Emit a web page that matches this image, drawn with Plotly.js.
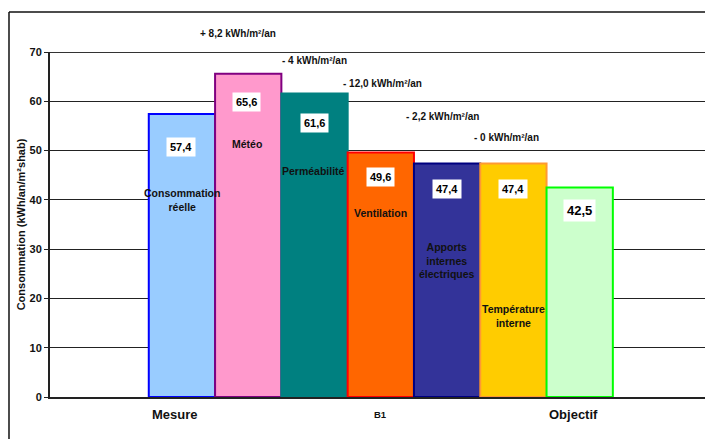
<!DOCTYPE html>
<html><head><meta charset="utf-8">
<script src="https://cdn.plot.ly/plotly-3.0.1.min.js"></script>
<style>html,body{margin:0;padding:0;background:#fff}#chart{width:705px;height:439px}</style>
</head><body><div id="chart"></div>
<script>
// ---- data ----
var barNames = ['Consommation<br>réelle', 'Météo', 'Perméabilité', 'Ventilation', 'Apports<br>internes<br>électriques', 'Température<br>interne', ''];
var barValues = [57.4, 65.6, 61.6, 49.6, 47.4, 47.4, 42.5];
var valueLabels = ['57,4', '65,6', '61,6', '49,6', '47,4', '47,4', '42,5'];
var deltaLabels = ['+ 8,2 kWh/m²/an', '- 4 kWh/m²/an', '- 12,0 kWh/m²/an', '- 2,2 kWh/m²/an', '- 0 kWh/m²/an'];
var groupLabels = ['Mesure', 'B1', 'Objectif'];
var yTickVals = [0, 10, 20, 30, 40, 50, 60, 70];

// ---- styles ----
var fillColors = ['#99CCFF', '#FF99CC', '#008080', '#FF6600', '#333399', '#FFCC00', '#CCFFCC'];
var lineColors = ['#0000FF', '#800080', '#008080', '#FF0000', '#000080', '#FF9933', '#00FF00'];
var F = 'Liberation Sans, Arial, sans-serif';
var yMax = 70;

var xs = barValues.map(function (v, i) { return i; });

// label placement (layout only)
var valPos = [[-0.02, 50.7], [0.98, 59.9], [2, 55.5], [3, 44.6], [4, 42.3], [5, 42.3], [6, 37.9]];
var namePos = [[0, 40.0], [0.98, 51.3], [1.98, 45.8], [3, 37.4], [4, 27.6], [5, 16.5]];
var deltaPos = [[0.85, 73.8], [2.0, 68.3], [3.02, 63.7], [3.93, 57.0], [4.9, 52.7]];
var groupPos = [[-0.1, 13], [3, 9.5], [5.9, 13]];

var ann = [];
valueLabels.forEach(function (t, i) {
  ann.push({x: valPos[i][0], y: valPos[i][1], xref: 'x', yref: 'y', text: '<b>' + t + '</b>', showarrow: false,
    bgcolor: '#FFFFFF', borderpad: 3, font: {family: F, size: i === 6 ? 13 : 11, color: '#000'}});
});
barNames.forEach(function (t, i) {
  if (!t) return;
  ann.push({x: namePos[i][0], y: namePos[i][1], xref: 'x', yref: 'y', text: '<b>' + t + '</b>', showarrow: false,
    font: {family: F, size: 10.5, color: '#111'}});
});
deltaLabels.forEach(function (t, i) {
  ann.push({x: deltaPos[i][0], y: deltaPos[i][1] / yMax, xref: 'x', yref: 'paper', xanchor: 'center', yanchor: 'middle',
    text: '<b>' + t + '</b>', showarrow: false, font: {family: F, size: 10, color: '#111'}});
});
groupLabels.forEach(function (t, i) {
  ann.push({x: groupPos[i][0], y: -0.05, xref: 'x', yref: 'paper', yanchor: 'middle', text: '<b>' + t + '</b>', showarrow: false,
    font: {family: F, size: groupPos[i][1], color: '#111'}});
});

var trace = {
  type: 'bar', x: xs, y: barValues, width: 1,
  marker: {color: fillColors, line: {color: lineColors, width: 2}},
  hoverinfo: 'none'
};

var layout = {
  width: 705, height: 439,
  margin: {l: 50, r: 0, t: 52, b: 42, pad: 0},
  paper_bgcolor: '#fff', plot_bgcolor: '#fff',
  showlegend: false,
  font: {family: F, color: '#000'},
  xaxis: {range: [-1.99, 7.89], showgrid: false, zeroline: false, showticklabels: false,
    showline: true, linecolor: '#222', linewidth: 2, ticks: '', fixedrange: true},
  yaxis: {range: [0, yMax], tickvals: yTickVals, showgrid: true, gridcolor: '#222', gridwidth: 1,
    zeroline: false, showline: true, linecolor: '#222', linewidth: 2,
    ticks: 'outside', ticklen: 4, tickcolor: '#222', tickwidth: 1,
    tickfont: {family: F, size: 11, weight: 'bold', color: '#111'},
    title: {text: '<b>Consommation (kWh/an/m²shab)</b>', font: {family: F, size: 11, color: '#111'}, standoff: 2}},
  annotations: ann,
  shapes: [
    {type: 'line', xref: 'paper', yref: 'y', x0: 0, x1: 1.01, y0: 70, y1: 70, line: {color: '#333', width: 2}},
    {type: 'line', xref: 'paper', yref: 'paper', x0: -0.0626, x1: -0.0626, y0: 1.116, y1: -0.2, line: {color: '#111', width: 1.5}},
    {type: 'line', xref: 'paper', yref: 'paper', x0: -0.0626, x1: 1.02, y0: 1.116, y1: 1.116, line: {color: '#111', width: 1.5}}
  ]
};

Plotly.newPlot('chart', [trace], layout, {staticPlot: true, displayModeBar: false});
</script></body></html>
